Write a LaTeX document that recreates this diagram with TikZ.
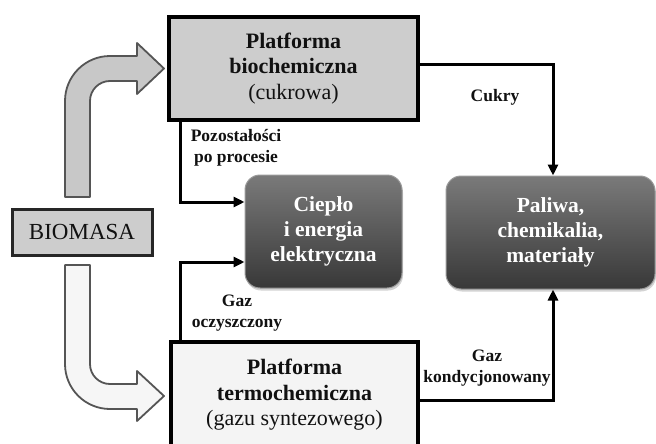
\documentclass[tikz,border=0pt]{standalone}
\usepackage{fontspec}
\setmainfont{Liberation Serif}
\usetikzlibrary{arrows.meta,shadows}
\definecolor{boxgray}{HTML}{CDCDCD}
\definecolor{boxlight}{HTML}{F4F4F4}
\definecolor{arrowgray}{HTML}{C8C8C8}
\definecolor{arrowlight}{HTML}{F6F6F6}
\definecolor{arrowline}{HTML}{555555}
\definecolor{darktop}{HTML}{7A7A7A}
\definecolor{darkbot}{HTML}{383838}
\definecolor{darkedge}{HTML}{9A9A9A}
\definecolor{txtdark}{HTML}{111111}
\begin{document}
\begin{tikzpicture}[x=1pt,y=-1pt,
  platbox/.style={draw=black, line width=3.4pt, inner sep=0pt, align=center, text=txtdark,
    font=\fontsize{22}{25.5}\selectfont},
  prodbox/.style={rounded corners=15pt, draw=darkedge, line width=1pt, top color=darktop, bottom color=darkbot,
    inner sep=0pt, align=center, text=white, font=\fontsize{21.5}{25}\selectfont\bfseries,
    minimum height=113pt, drop shadow={opacity=0.35, shadow xshift=1pt, shadow yshift=-2.5pt}},
  flowlbl/.style={align=center, font=\fontsize{17.5}{20.5}\selectfont\bfseries, text=txtdark},
  conn/.style={line width=3pt, -{Triangle[length=11pt,width=10pt]}},
  bigarrow/.style={draw=arrowline, line width=1.8pt, line join=round}
]
\useasboundingbox (0,0) rectangle (656,444);
\clip (0,0) rectangle (656,444);

% big curved arrows
\draw[bigarrow, fill=arrowgray] (65,197) -- (65,101) arc[start angle=180,end angle=270,radius=45]
  -- (137,56) -- (137,43) -- (164,68.5) -- (137,94) -- (137,81) -- (110,81)
  arc[start angle=270,end angle=180,radius=20] -- (90,197) -- cycle;
\draw[bigarrow, fill=arrowlight] (65,265) -- (65,364) arc[start angle=180,end angle=90,radius=45]
  -- (137,409) -- (137,421) -- (164,396) -- (137,371) -- (137,384) -- (110,384)
  arc[start angle=90,end angle=180,radius=20] -- (90,265) -- cycle;

% boxes
\node[platbox, fill=boxgray, minimum width=249pt, minimum height=103pt] (top) at (293.5,68.5)
  {\textbf{Platforma}\\\textbf{biochemiczna}\\(cukrowa)};
\node[platbox, fill=boxlight, minimum width=247pt, minimum height=106pt] (bot) at (294.5,395)
  {\textbf{Platforma}\\\textbf{termochemiczna}\\(gazu syntezowego)};
\node[draw=black!85, line width=3pt, fill=boxgray, minimum width=140pt, minimum height=46pt,
  inner sep=0pt, text=txtdark, font=\fontsize{23}{25}\selectfont] (bio) at (82,232) {BIOMASA};
\node[prodbox, minimum width=157pt] (cie) at (323.5,231.5) {Ciepło\\i energia\\elektryczna};
\node[prodbox, minimum width=209pt] (pal) at (550.5,232.5) {Paliwa,\\chemikalia,\\materiały};

% connectors
\draw[conn] ([yshift=3.5pt]top.east) -| ([xshift=2.5pt]pal.north);
\draw[conn] ([yshift=-5pt]bot.east) -| ([xshift=2.5pt]pal.south);
\draw[conn] ([xshift=13pt]top.south west) |- ([yshift=29.5pt]cie.west);
\draw[conn] ([xshift=11pt]bot.north west) |- ([yshift=-30.5pt]cie.west);

% labels
\node[flowlbl] (lcukry) at (495,97) {Cukry};
\node[flowlbl] (lpoz) at (236,148) {Pozostałości\\po procesie};
\node[flowlbl] (lgazo) at (237,313) {Gaz\\oczyszczony};
\node[flowlbl] (lgazk) at (487,368) {Gaz\\kondycjonowany};
\end{tikzpicture}
\end{document}
